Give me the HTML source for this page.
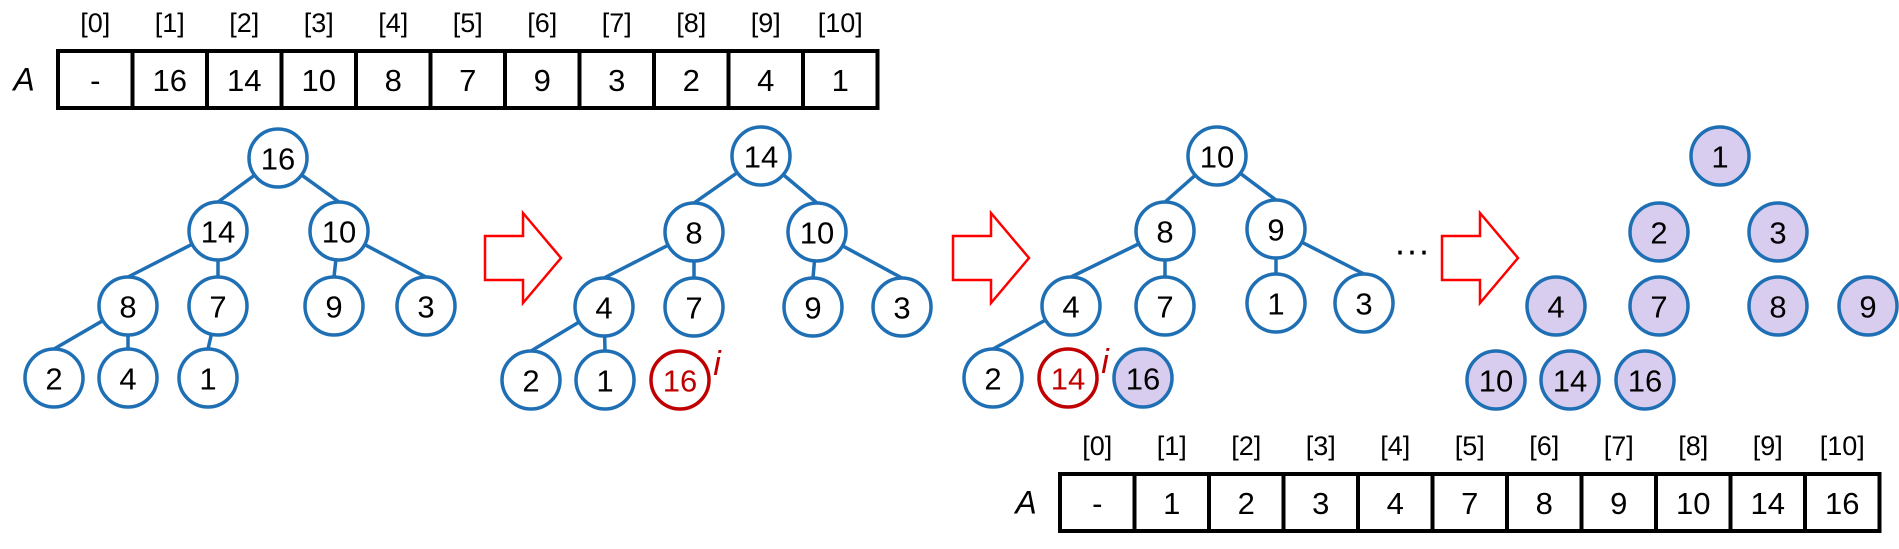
<!DOCTYPE html>
<html><head><meta charset="utf-8"><style>
html,body{margin:0;padding:0;background:#fff}
svg{display:block}
text{font-family:"Liberation Sans",Arial,sans-serif}
</style></head><body>
<svg id="s" width="1899" height="549" viewBox="0 0 1899 549" xmlns="http://www.w3.org/2000/svg"></svg>
<script>
const topValues=["-","16","14","10","8","7","9","3","2","4","1"];
const bottomValues=["-","1","2","3","4","7","8","9","10","14","16"];
// nodes: [label, x, y, style] style: n normal, r red, p purple
const tree1=[["16",278,158,"n"],["14",218,231,"n"],["10",339,231,"n"],["8",128,306,"n"],["7",218,306,"n"],["9",334,306,"n"],["3",426,306,"n"],["2",54,378,"n"],["4",128,378,"n"],["1",208,378,"n"]];
const edges1=[[0,1],[0,2],[1,3],[1,4],[2,5],[2,6],[3,7],[3,8],[4,9]];
const tree2=[["14",761,156,"n"],["8",694,232,"n"],["10",817,232,"n"],["4",604,307,"n"],["7",694,307,"n"],["9",813,307,"n"],["3",902,307,"n"],["2",531,380,"n"],["1",605,380,"n"],["16",680,380,"r"]];
const edges2=[[0,1],[0,2],[1,3],[1,4],[2,5],[2,6],[3,7],[3,8]];
const tree3=[["10",1217,156,"n"],["8",1165,231,"n"],["9",1276,229,"n"],["4",1071,306,"n"],["7",1165,306,"n"],["1",1276,303,"n"],["3",1364,303,"n"],["2",993,378,"n"],["14",1068,378,"r"],["16",1143,378,"p"]];
const edges3=[[0,1],[0,2],[1,3],[1,4],[2,5],[2,6],[3,7]];
const tree4=[["1",1720,156,"p"],["2",1659,232,"p"],["3",1778,232,"p"],["4",1556,306,"p"],["7",1659,306,"p"],["8",1778,306,"p"],["9",1868,306,"p"],["10",1496,380,"p"],["14",1570,380,"p"],["16",1645,380,"p"]];
const arrowsX=[485,953,1442];
const S=document.getElementById('s');
const NS="http://www.w3.org/2000/svg";
const R=29;
function mk(tag,attrs,parent){const e=document.createElementNS(NS,tag);for(const k in attrs)e.setAttribute(k,attrs[k]);(parent||S).appendChild(e);return e;}
function txt(x,y,s,size,fill,parent,italic){const t=mk('text',{x:x,y:y,'font-size':size,fill:fill||'#000','text-anchor':'middle','dominant-baseline':'central'},parent);if(italic)t.setAttribute('font-style','italic');t.textContent=s;return t;}
function table(x0,y0,vals,name){
  const g=mk('g',{});
  
  
  const w=74.5,h=57;
  txt(x0-34,y0+h/2,'A',32,'#000',g,true);
  for(let i=0;i<vals.length;i++){
    const c=mk('rect',{x:x0+i*w,y:y0,width:w,height:h,fill:'#fff',stroke:'#000','stroke-width':4},g);
    
    
    txt(x0+i*w+w/2,y0-28,'['+i+']',27,'#000',g);
    txt(x0+i*w+w/2,y0+h/2+1,vals[i],31,'#000',g);
  }
}
table(58,51,topValues,'initial-array');
table(1060,474,bottomValues,'sorted-array');
function tree(nodes,edges,name){
  const g=mk('g',{});
  
  
  edges.forEach(([a,b])=>{
    const px=nodes[a][1],py=nodes[a][2],cx=nodes[b][1],cy=nodes[b][2]-R;
    const dx=cx-px,dy=cy-py,L=Math.hypot(dx,dy);
    const l=mk('line',{x1:px+dx/L*R,y1:py+dy/L*R,x2:cx,y2:cy,stroke:'#1f6fb5','stroke-width':3.5},g);
    
    
  });
  nodes.forEach(n=>{
    const st=n[3];
    const c=mk('circle',{cx:n[1],cy:n[2],r:R,fill:st==='p'?'#d9cdef':'#fff',stroke:st==='r'?'#c00000':'#1f6fb5','stroke-width':3.5},g);
    
    
    txt(n[1],n[2]+1,n[0],31,st==='r'?'#c00000':'#000',g);
    if(st==='r'){const t=txt(n[1]+37,n[2]-16,'i',34,'#c00000',g,true);}
  });
}
tree(tree1,edges1,'heap-tree-1');
tree(tree2,edges2,'heap-tree-2');
tree(tree3,edges3,'heap-tree-3');
tree(tree4,[],'sorted-nodes');
arrowsX.forEach((x,i)=>{
  const p=mk('polygon',{points:`${x},236 ${x+38},236 ${x+38},213 ${x+76},258 ${x+38},303 ${x+38},280 ${x},280`,fill:'#fff',stroke:'#ff0000','stroke-width':2.5});
  
  
});
const d=txt(1412,250,'···',36,'#000');


</script>
</body></html>
